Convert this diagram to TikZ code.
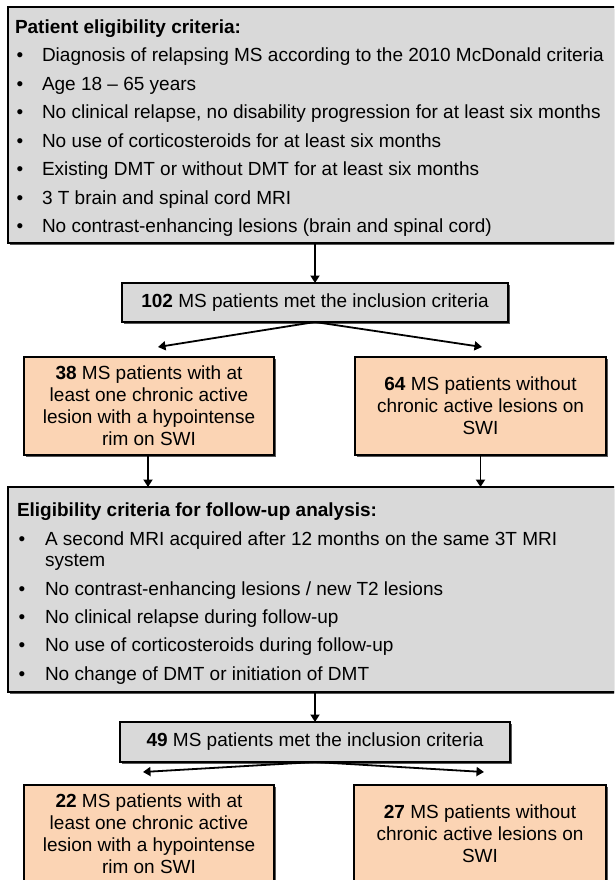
\documentclass[tikz,border=0pt]{standalone}
\usepackage{fontspec}
\setmainfont{Liberation Sans}
\usetikzlibrary{arrows.meta,shadows,calc}
\definecolor{boxgray}{RGB}{217,217,217}
\definecolor{boxorange}{RGB}{251,212,180}
\begin{document}
\begin{tikzpicture}[x=1pt,y=-1pt,
  box/.style={draw=black, line width=1.5pt, inner sep=0pt, outer sep=0pt,
    drop shadow={shadow xshift=2pt, shadow yshift=-2pt, fill=black!65, opacity=1}},
  graybox/.style={box, fill=boxgray},
  orangebox/.style={box, fill=boxorange, align=center, font=\fontsize{19}{22}\selectfont},
  txt/.style={inner sep=0pt, outer sep=0pt, font=\fontsize{19}{23}\selectfont, anchor=base west},
  bul/.style={inner sep=0pt, outer sep=0pt, font=\fontsize{19}{23}\selectfont, anchor=base},
  arr/.style={line width=1.8pt, -{Triangle[width=9pt,length=7.5pt]}}]
\useasboundingbox (0,0) rectangle (614,880);
\clip (0,0) rectangle (614,880);
\fill[white] (0,0) rectangle (614,880);

% ---- first criteria box
\node[graybox, anchor=north west, minimum width=620pt, minimum height=236pt] (crit) at (8,7) {};
\node[txt] (critT) at (15,34) {\textbf{Patient eligibility criteria:}};
\foreach \t [count=\i from 0] in {
  Diagnosis of relapsing MS according to the 2010 McDonald criteria,
  Age 18 -- 65 years,
  {No clinical relapse, no disability progression for at least six months},
  No use of corticosteroids for at least six months,
  Existing DMT or without DMT for at least six months,
  3 T brain and spinal cord MRI,
  No contrast-enhancing lesions (brain and spinal cord)}{
  \node[bul] (critB\i) at (20,62+28.4*\i) {\textbullet};
  \node[txt] (critL\i) at (42,62+28.4*\i) {\t};
}

% ---- 102 box
\node[graybox, minimum width=386pt, minimum height=39pt, font=\fontsize{19}{23}\selectfont] (n102) at (315,302.5) {\textbf{102} MS patients met the inclusion criteria};

% ---- first orange boxes
\node[orangebox, minimum width=250pt, minimum height=98pt] (L1) at (149,406) {\textbf{38} MS patients with at\\least one chronic active\\lesion with a hypointense\\rim on SWI};
\node[orangebox, minimum width=251pt, minimum height=98pt] (R1) at (480.5,406) {\textbf{64} MS patients without\\chronic active lesions on\\SWI};

% ---- second criteria box
\node[graybox, anchor=north west, minimum width=620pt, minimum height=205pt] (fup) at (8,487) {};
\node[txt] (fupT) at (17,516) {\textbf{Eligibility criteria for follow-up analysis:}};
\node[bul] (fupB0) at (22,545) {\textbullet};
\node[txt] (fupL0) at (45,545) {A second MRI acquired after 12 months on the same 3T MRI};
\node[txt] (fupL0b) at (45,566) {system};
\foreach \t [count=\i from 1] in {
  No contrast-enhancing lesions / new T2 lesions,
  No clinical relapse during follow-up,
  No use of corticosteroids during follow-up,
  No change of DMT or initiation of DMT}{
  \node[bul] (fupB\i) at (22,595+28.4*\i-28.4) {\textbullet};
  \node[txt] (fupL\i) at (45,595+28.4*\i-28.4) {\t};
}

% ---- 49 box
\node[graybox, minimum width=390pt, minimum height=40pt, font=\fontsize{19}{23}\selectfont] (n49) at (315,742) {\textbf{49} MS patients met the inclusion criteria};

% ---- second orange boxes
\node[orangebox, anchor=north, minimum width=250pt, minimum height=98pt] (L2) at (149,785) {\textbf{22} MS patients with at\\least one chronic active\\lesion with a hypointense\\rim on SWI};
\node[orangebox, anchor=north, minimum width=252pt, minimum height=98pt] (R2) at (480,785) {\textbf{27} MS patients without\\chronic active lesions on\\SWI};

% ---- connectors
\coordinate (t1L) at (158,347);
\coordinate (t1R) at (482,347);
\coordinate (t2L) at (143,772);
\coordinate (t2R) at (484,772);
\draw[arr] (crit.south -| n102.north) -- (n102.north);
\draw[arr] (n102.south) -- (t1L);
\draw[arr] (n102.south) -- (t1R);
\draw[arr] (L1.south -| 148,0) -- (fup.north -| 148,0);
\draw[arr] (R1.south) -- (fup.north -| R1.south);
\draw[arr] (fup.south -| n49.north) -- (n49.north);
\draw[arr] (n49.south) -- (t2L);
\draw[arr] (n49.south) -- (t2R);
\end{tikzpicture}
\end{document}
